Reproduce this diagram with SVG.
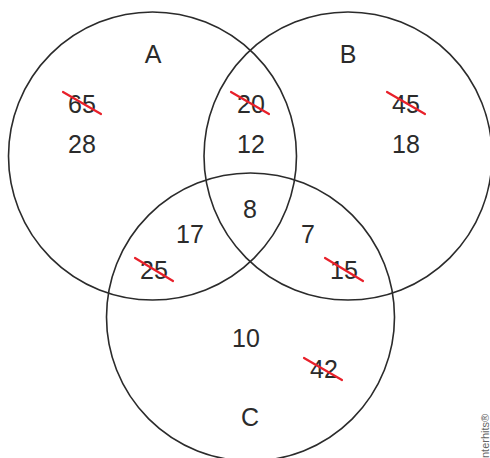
<svg xmlns="http://www.w3.org/2000/svg" width="490" height="458" viewBox="0 0 490 458">
<style>
.c{fill:none;stroke:#2b2b2b;stroke-width:1.6}
.t{font-family:"Liberation Sans",Arial,sans-serif;font-size:25px;fill:#2b2b2b;text-anchor:middle}
.x{stroke:#e8202a;stroke-width:2.2;stroke-linecap:round}
.w{font-family:"Liberation Sans",Arial,sans-serif;font-size:11px;fill:#666}
</style>
<rect width="490" height="458" fill="#fff"/>
<g id="circleA"><circle class="c" cx="152.5" cy="156" r="144"/><text class="t" x="153" y="63">A</text></g>
<g id="circleB"><circle class="c" cx="348" cy="156" r="144"/><text class="t" x="348" y="63">B</text></g>
<g id="circleC"><circle class="c" cx="250.5" cy="317" r="144"/><text class="t" x="250" y="426">C</text></g>
<g id="numbers">
<text class="t" x="82" y="113">65</text>
<text class="t" x="82" y="153">28</text>
<text class="t" x="251" y="113">20</text>
<text class="t" x="251" y="153">12</text>
<text class="t" x="406" y="113">45</text>
<text class="t" x="406" y="153">18</text>
<text class="t" x="250" y="218">8</text>
<text class="t" x="190" y="243">17</text>
<text class="t" x="308" y="243">7</text>
<text class="t" x="154" y="279">25</text>
<text class="t" x="344" y="279">15</text>
<text class="t" x="246" y="347">10</text>
<text class="t" x="324" y="378">42</text>
</g>
<g id="strikes">
<line class="x" x1="63" y1="92" x2="101" y2="114"/>
<line class="x" x1="231" y1="92" x2="269" y2="114"/>
<line class="x" x1="387" y1="92" x2="425" y2="114"/>
<line class="x" x1="135" y1="258" x2="173" y2="281"/>
<line class="x" x1="325" y1="258" x2="363" y2="281"/>
<line class="x" x1="304" y1="358" x2="342" y2="380"/>
</g>
<text class="w" transform="translate(489,458) rotate(-90)">nterhits®</text>
</svg>
